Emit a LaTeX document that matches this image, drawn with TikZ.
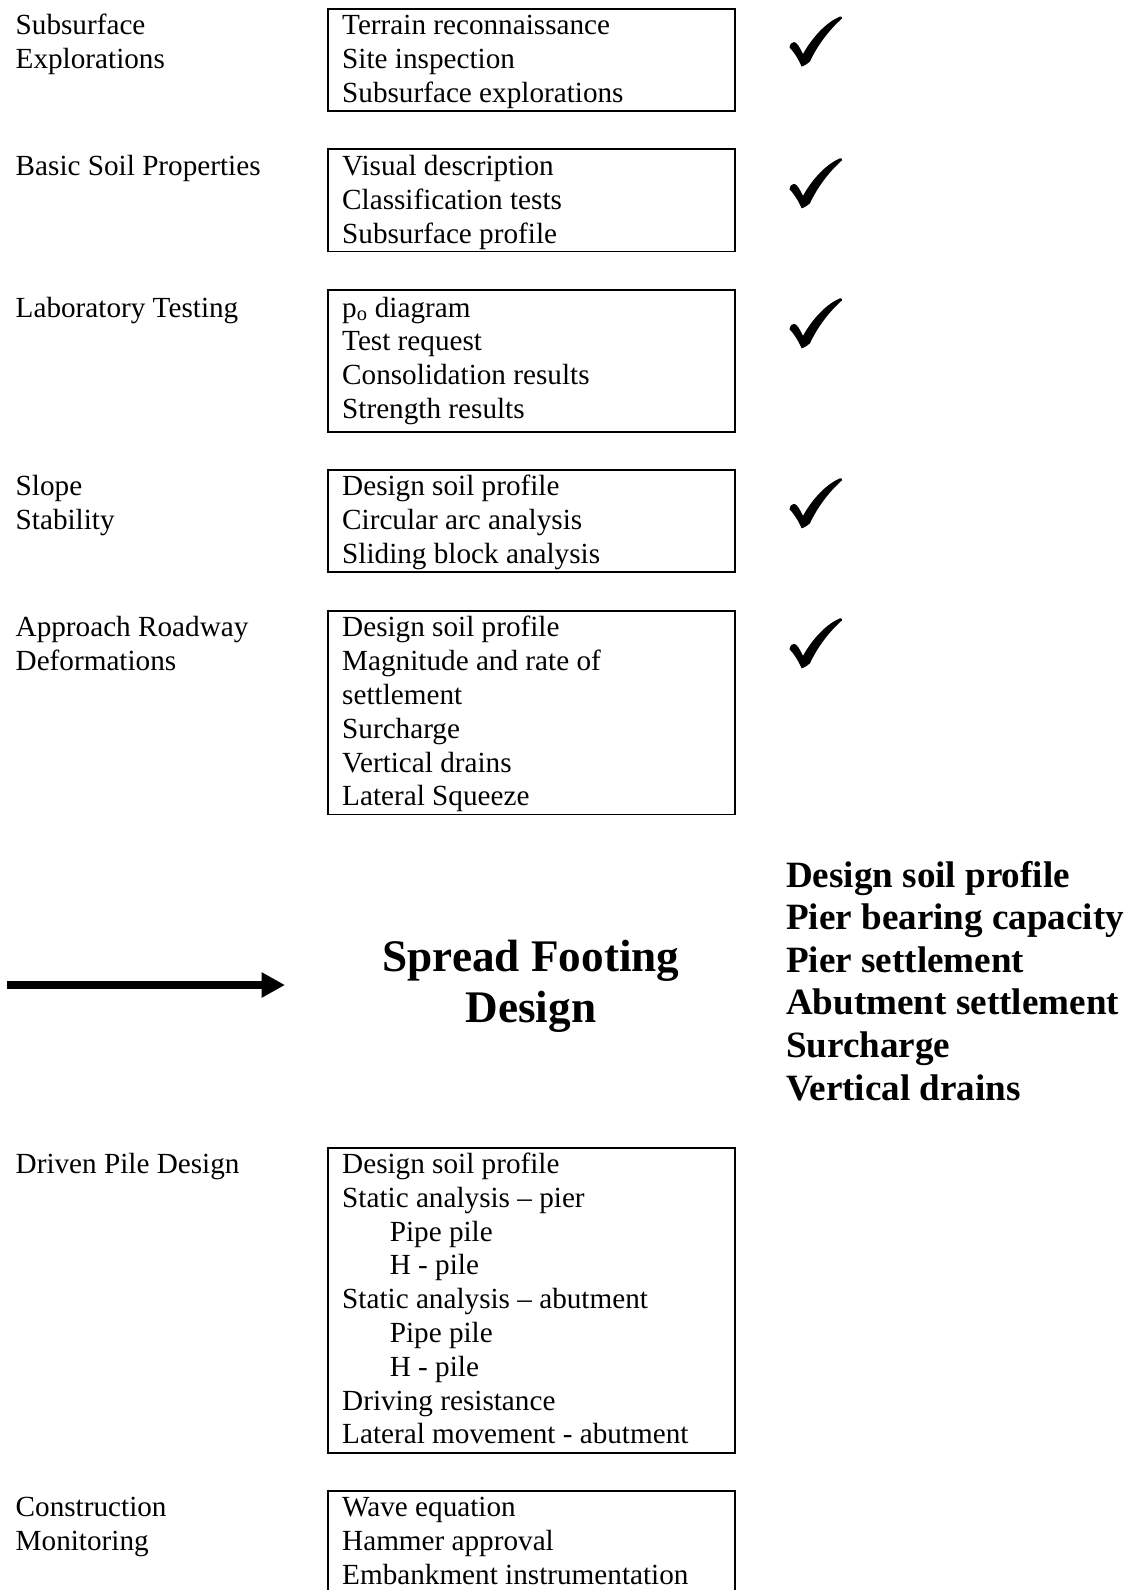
\documentclass[tikz,border=0pt]{standalone}
\usepackage{fontspec}
\setmainfont{Liberation Serif}
\usetikzlibrary{arrows.meta}
\tikzset{
  frame/.style={draw, line width=1.9pt, anchor=north west, inner sep=0pt, minimum width=407pt},
  itemtext/.style={anchor=base west, inner sep=0pt, align=left, font=\fontsize{29.2}{33.8}\selectfont},
  lbl/.style={itemtext},
  bigtitle/.style={anchor=base, inner sep=0pt, align=center, font=\fontsize{45.2}{51.9}\selectfont\bfseries},
  boldlist/.style={anchor=base west, inner sep=0pt, align=left, font=\fontsize{37.1}{42.6}\selectfont\bfseries},
  checkmark/.pic={
    \fill (0.5,31.5) .. controls (1,28) and (3,26) .. (5,26)
      .. controls (8,26) and (11,32) .. (14,38)
      .. controls (24,20) and (38,6) .. (51,0.5)
      .. controls (52.5,0) and (54,1.5) .. (53,2.5)
      .. controls (40,14) and (28,30) .. (21,45.5)
      .. controls (18,48) and (15,50) .. (12.5,50.5)
      .. controls (10,44) and (5,36) .. (0.5,31.5) -- cycle;
  }
}
\begin{document}
\begin{tikzpicture}[x=1pt,y=-1pt]
\useasboundingbox (0,0) rectangle (1129,1590);
\clip (0,0) rectangle (1129,1590);
% boxes
\node[frame, minimum height=102pt] (b1) at (327,8) {};
\node[frame, minimum height=102.5pt] (b2) at (327,148) {};
\node[frame, minimum height=142pt] (b3) at (327,289) {};
\node[frame, minimum height=102.4pt] (b4) at (327,468.7) {};
\node[frame, minimum height=203.8pt] (b5) at (327,609.7) {};
\node[frame, minimum height=304.3pt] (b6) at (327,1147.3) {};
\node[frame, minimum height=120pt] (b7) at (327,1490) {};
% left labels (anchored at last-line baseline)
\node[lbl] (l1) at (15.5,68.2) {Subsurface\\Explorations};
\node[lbl] (l2) at (15.5,175.4) {Basic Soil Properties};
\node[lbl] (l3) at (15.5,317) {Laboratory Testing};
\node[lbl] (l4) at (15.5,529.7) {Slope\\Stability};
\node[lbl] (l5) at (15.5,670.7) {Approach Roadway\\Deformations};
\node[lbl] (l6) at (15.5,1173.5) {Driven Pile Design};
\node[lbl] (l7) at (15.5,1550.2) {Construction\\Monitoring};
% box contents (anchored at last-line baseline)
\node[itemtext] (t1) at (342,102) {Terrain reconnaissance\\Site inspection\\Subsurface explorations};
\node[itemtext] (t2) at (342,243) {Visual description\\Classification tests\\Subsurface profile};
\node[itemtext] (t3) at (342,418.4) {p\textsubscript{o} diagram\\Test request\\Consolidation results\\Strength results};
\node[itemtext] (t4) at (342,563.5) {Design soil profile\\Circular arc analysis\\Sliding block analysis};
\node[itemtext] (t5) at (342,805.9) {Design soil profile\\Magnitude and rate of\\settlement\\Surcharge\\Vertical drains\\Lateral Squeeze};
\node[itemtext] (t6) at (342,1443.9) {Design soil profile\\Static analysis -- pier\\\hspace*{47.6pt}Pipe pile\\\hspace*{47.6pt}H - pile\\Static analysis -- abutment\\\hspace*{47.6pt}Pipe pile\\\hspace*{47.6pt}H - pile\\Driving resistance\\Lateral movement - abutment};
\node[itemtext] (t7) at (342,1584) {Wave equation\\Hammer approval\\Embankment instrumentation};
% check marks
\pic (c1) at (789,16) {checkmark};
\pic (c2) at (789,157.8) {checkmark};
\pic (c3) at (789,297.8) {checkmark};
\pic (c4) at (789,477.8) {checkmark};
\pic (c5) at (789,617.8) {checkmark};
% center title and results
\node[bigtitle] (sfd) at (531,1022.9) {Spread Footing\\Design};
\node[boldlist] (res) at (786,1100) {Design soil profile\\Pier bearing capacity\\Pier settlement\\Abutment settlement\\Surcharge\\Vertical drains};
% arrow
\coordinate (arrS) at (7,985);
\coordinate (arrE) at (285,985);
\draw[line width=8pt, -{Triangle[length=23.5pt,width=24pt]}] (arrS) -- (arrE);
\end{tikzpicture}
\end{document}
